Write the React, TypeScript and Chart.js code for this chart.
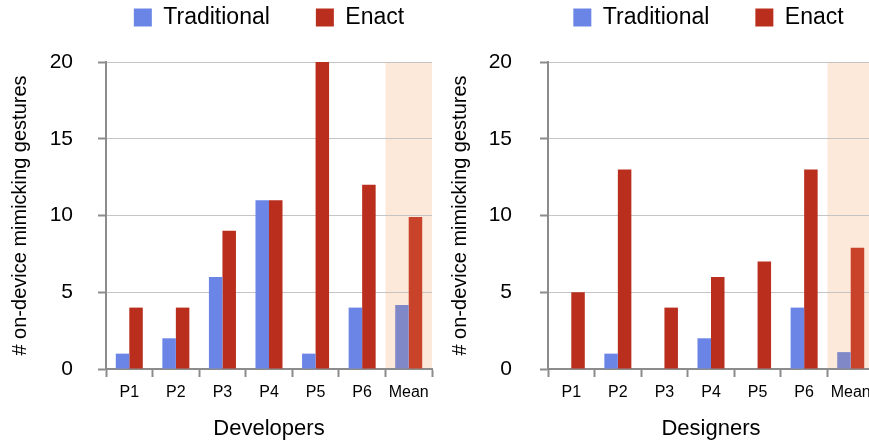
import React, { useEffect, useRef } from 'react';
import { Chart, registerables } from 'chart.js';

Chart.register(...registerables);

// ---------- data ----------
const categories = ['P1', 'P2', 'P3', 'P4', 'P5', 'P6', 'Mean'];
const seriesNames = ['Traditional', 'Enact'];
const devTraditional = [1, 2, 6, 11, 1, 4, 4.17];
const devEnact = [4, 4, 9, 11, 20, 12, 9.9];
const desTraditional = [0, 1, 0, 2, 0, 4, 1.1];
const desEnact = [5, 13, 4, 6, 7, 13, 7.9];
const yTickValues = [0, 5, 10, 15, 20];
const panelTitles = ['Developers', 'Designers'];
const yTitle = '# on-device mimicking gestures';

// ---------- styles ----------
const FONT = "'Liberation Sans', Arial, Helvetica, sans-serif";
const BLUE = '#6a85e6';
const RED = '#b92e1c';
const MEAN_BLUE = '#8088c8';
const MEAN_RED = '#c8432a';
const SHADE = '#fde9da';
const AXIS = '#8c8c8c';
const GRID = '#c4c4c4';
const H = 446;
const MEAN_INDEX = categories.length - 1;

const legendSpacer = {
  id: 'legendSpacer',
  afterInit(chart: any) {
    const lg = chart.legend;
    if (!lg || lg.__patched) return;
    const orig = lg.fit;
    lg.fit = function () {
      orig.call(this);
      this.height += (chart.options.plugins.legendSpacer?.extra ?? 0);
    };
    lg.__patched = true;
  },
};

const meanShade = {
  id: 'meanShade',
  beforeDraw(chart: any) {
    const x = chart.scales.x;
    const area = chart.chartArea;
    if (!x || !area) return;
    const half = (x.right - x.left) / categories.length / 2;
    const left = x.getPixelForValue(MEAN_INDEX) - half;
    const ctx = chart.ctx;
    ctx.save();
    ctx.fillStyle = SHADE;
    ctx.fillRect(left, area.top, area.right - left, area.bottom - area.top);
    ctx.restore();
  },
};

type PanelProps = {
  trad: number[];
  enact: number[];
  title: string;
  pageLeft: number;
  width: number;
  yWidth: number;
  rightWidth: number;
  tickPad: number;
};

function Panel({ trad, enact, title, pageLeft, width, yWidth, rightWidth, tickPad }: PanelProps) {
  const ref = useRef<HTMLCanvasElement | null>(null);
  useEffect(() => {
    if (!ref.current) return;
    const chart = new Chart(ref.current, {
      type: 'bar',
      data: {
        labels: categories,
        datasets: [
          {
            label: seriesNames[0],
            data: trad,
            yAxisID: 'y',
            backgroundColor: (c: any) => (c.dataIndex === MEAN_INDEX ? MEAN_BLUE : BLUE),
            borderWidth: 0,
            barPercentage: 1,
            categoryPercentage: 0.58,
          },
          {
            label: seriesNames[1],
            data: enact,
            yAxisID: 'y',
            backgroundColor: (c: any) => (c.dataIndex === MEAN_INDEX ? MEAN_RED : RED),
            borderWidth: 0,
            barPercentage: 1,
            categoryPercentage: 0.58,
          },
        ],
      },
      options: {
        responsive: false,
        animation: false,
        devicePixelRatio: 1,
        layout: { padding: { top: -40, left: 4, right: 0, bottom: 0 } },
        plugins: {
          tooltip: { enabled: false },
          legendSpacer: { extra: 23 },
          legend: {
            display: true,
            position: 'top',
            align: 'center',
            fullSize: true,
            labels: {
              boxWidth: 18,
              boxHeight: 18,
              padding: 46,
              color: '#000',
              font: { size: 23, family: FONT },
            },
          },
        } as any,
        scales: {
          x: {
            grid: {
              display: true,
              drawOnChartArea: false,
              offset: true,
              tickLength: 8,
              tickColor: AXIS,
              tickWidth: 2,
            },
            border: { color: AXIS, width: 2 },
            ticks: {
              padding: 6,
              color: '#000',
              font: { size: 16, family: FONT },
              maxRotation: 0,
              autoSkip: false,
            },
            title: {
              display: true,
              text: title,
              color: '#000',
              font: { size: 22, family: FONT },
              padding: { top: 4, bottom: 4 },
            },
            afterFit(s: any) {
              s.height = H - 369;
            },
          },
          y: {
            position: 'left',
            min: 0,
            max: 20,
            afterBuildTicks(s: any) {
              s.ticks = yTickValues.map((v) => ({ value: v }));
            },
            ticks: {
              padding: tickPad,
              color: '#000',
              font: { size: 21, family: FONT },
            },
            grid: {
              color: GRID,
              lineWidth: 1,
              tickColor: AXIS,
              tickLength: 8,
              tickWidth: 2,
            },
            border: { color: AXIS, width: 2 },
            title: {
              display: true,
              text: yTitle,
              color: '#000',
              font: { size: 20, family: FONT },
              padding: { top: 4, bottom: 4 },
            },
            afterFit(s: any) {
              s.width = yWidth;
            },
          },
          yR: {
            position: 'right',
            display: true,
            grid: { display: false },
            border: { display: false },
            ticks: { display: false },
            afterFit(s: any) {
              s.width = rightWidth;
            },
          },
        } as any,
      },
      plugins: [legendSpacer, meanShade],
    } as any);
    return () => chart.destroy();
  }, []);
  return (
    <canvas
      ref={ref}
      width={width}
      height={H}
      style={{ position: 'absolute', left: pageLeft, top: 0, width, height: H }}
    />
  );
}

export default function App() {
  return (
    <div
      style={{
        position: 'fixed',
        left: 0,
        top: 0,
        width: 869,
        height: H,
        overflow: 'hidden',
        background: '#fff',
      }}
    >
      <Panel
        trad={devTraditional}
        enact={devEnact}
        title={panelTitles[0]}
        pageLeft={0}
        width={534}
        yWidth={102}
        rightWidth={102}
        tickPad={25}
      />
      <Panel
        trad={desTraditional}
        enact={desEnact}
        title={panelTitles[1]}
        pageLeft={440}
        width={533}
        yWidth={104}
        rightWidth={99}
        tickPad={28}
      />
    </div>
  );
}
